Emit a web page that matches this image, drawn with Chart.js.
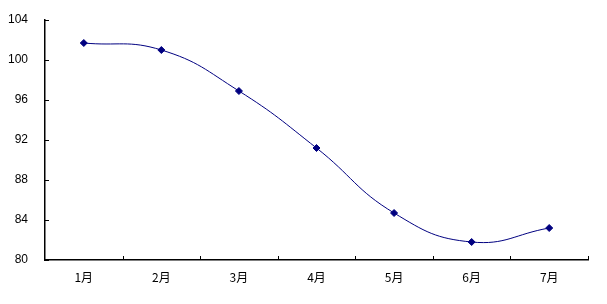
<!DOCTYPE html>
<html>
<head>
<meta charset="utf-8">
<script src="https://cdn.jsdelivr.net/npm/chart.js@4/dist/chart.umd.min.js"></script>
<style>
  html, body { margin: 0; padding: 0; background: #fff; }
  #wrap { width: 607px; height: 304px; }
</style>
</head>
<body>
<div id="wrap"><canvas id="lineChart"></canvas></div>
<script>
const months = ["1月", "2月", "3月", "4月", "5月", "6月", "7月"];
const values = [101.7, 101.0, 96.9, 91.2, 84.7, 81.8, 83.2];
const yMin = 80;
const yMax = 104;
const yStep = 4;

// small tick marks drawn inside the plot, like the original
const innerTicks = {
  id: "innerTicks",
  afterDraw(chart) {
    const ctx = chart.ctx;
    const area = chart.chartArea;
    const y = chart.scales.y;
    ctx.save();
    ctx.strokeStyle = "#000";
    ctx.lineWidth = 1;
    ctx.beginPath();
    const n = months.length;
    for (let i = 1; i <= n; i++) {
      const px = Math.round(area.left + (i * (area.right - area.left)) / n) + 0.5;
      ctx.moveTo(px, area.bottom);
      ctx.lineTo(px, area.bottom - 4);
    }
    y.ticks.forEach((t, i) => {
      const py = Math.round(y.getPixelForTick(i)) + 0.5;
      ctx.moveTo(area.left, py);
      ctx.lineTo(area.left + 4, py);
    });
    ctx.stroke();
    ctx.restore();
  },
};

document.addEventListener("DOMContentLoaded", () => {
  const el = document.getElementById("lineChart").getContext("2d");
  new Chart(el, {
    type: "line",
    data: {
      labels: months,
      datasets: [
        {
          data: values,
          borderColor: "#000080",
          backgroundColor: "#000080",
          borderWidth: 1,
          tension: 0.45,
          pointStyle: "rectRot",
          pointRadius: 3.5,
          pointHoverRadius: 3.5,
        },
      ],
    },
    options: {
      responsive: true,
      maintainAspectRatio: false,
      animation: false,
      layout: { padding: { top: 20, right: 19, left: 0, bottom: 0 } },
      plugins: { legend: { display: false }, tooltip: { enabled: false } },
      scales: {
        x: {
          offset: true,
          grid: { display: false, drawTicks: false },
          border: { display: true, color: "#000", width: 1.5 },
          ticks: {
            color: "#000",
            padding: 10,
            font: { family: "SimSun, 'Noto Sans CJK SC'", size: 12 },
            maxRotation: 0,
          },
          afterFit(scale) {
            scale.height = 44;
            scale.paddingLeft = 0;
            scale.paddingRight = 0;
          },
        },
        y: {
          min: yMin,
          max: yMax,
          grid: { display: false, drawTicks: false },
          border: { display: true, color: "#000", width: 1.5 },
          ticks: {
            stepSize: yStep,
            color: "#000",
            padding: 17,
            font: { family: "'Liberation Sans', sans-serif", size: 12 },
          },
          afterFit(scale) {
            scale.width = 45;
            scale.paddingTop = 0;
            scale.paddingBottom = 0;
          },
        },
      },
    },
    plugins: [innerTicks],
  });
});
</script>
</body>
</html>
